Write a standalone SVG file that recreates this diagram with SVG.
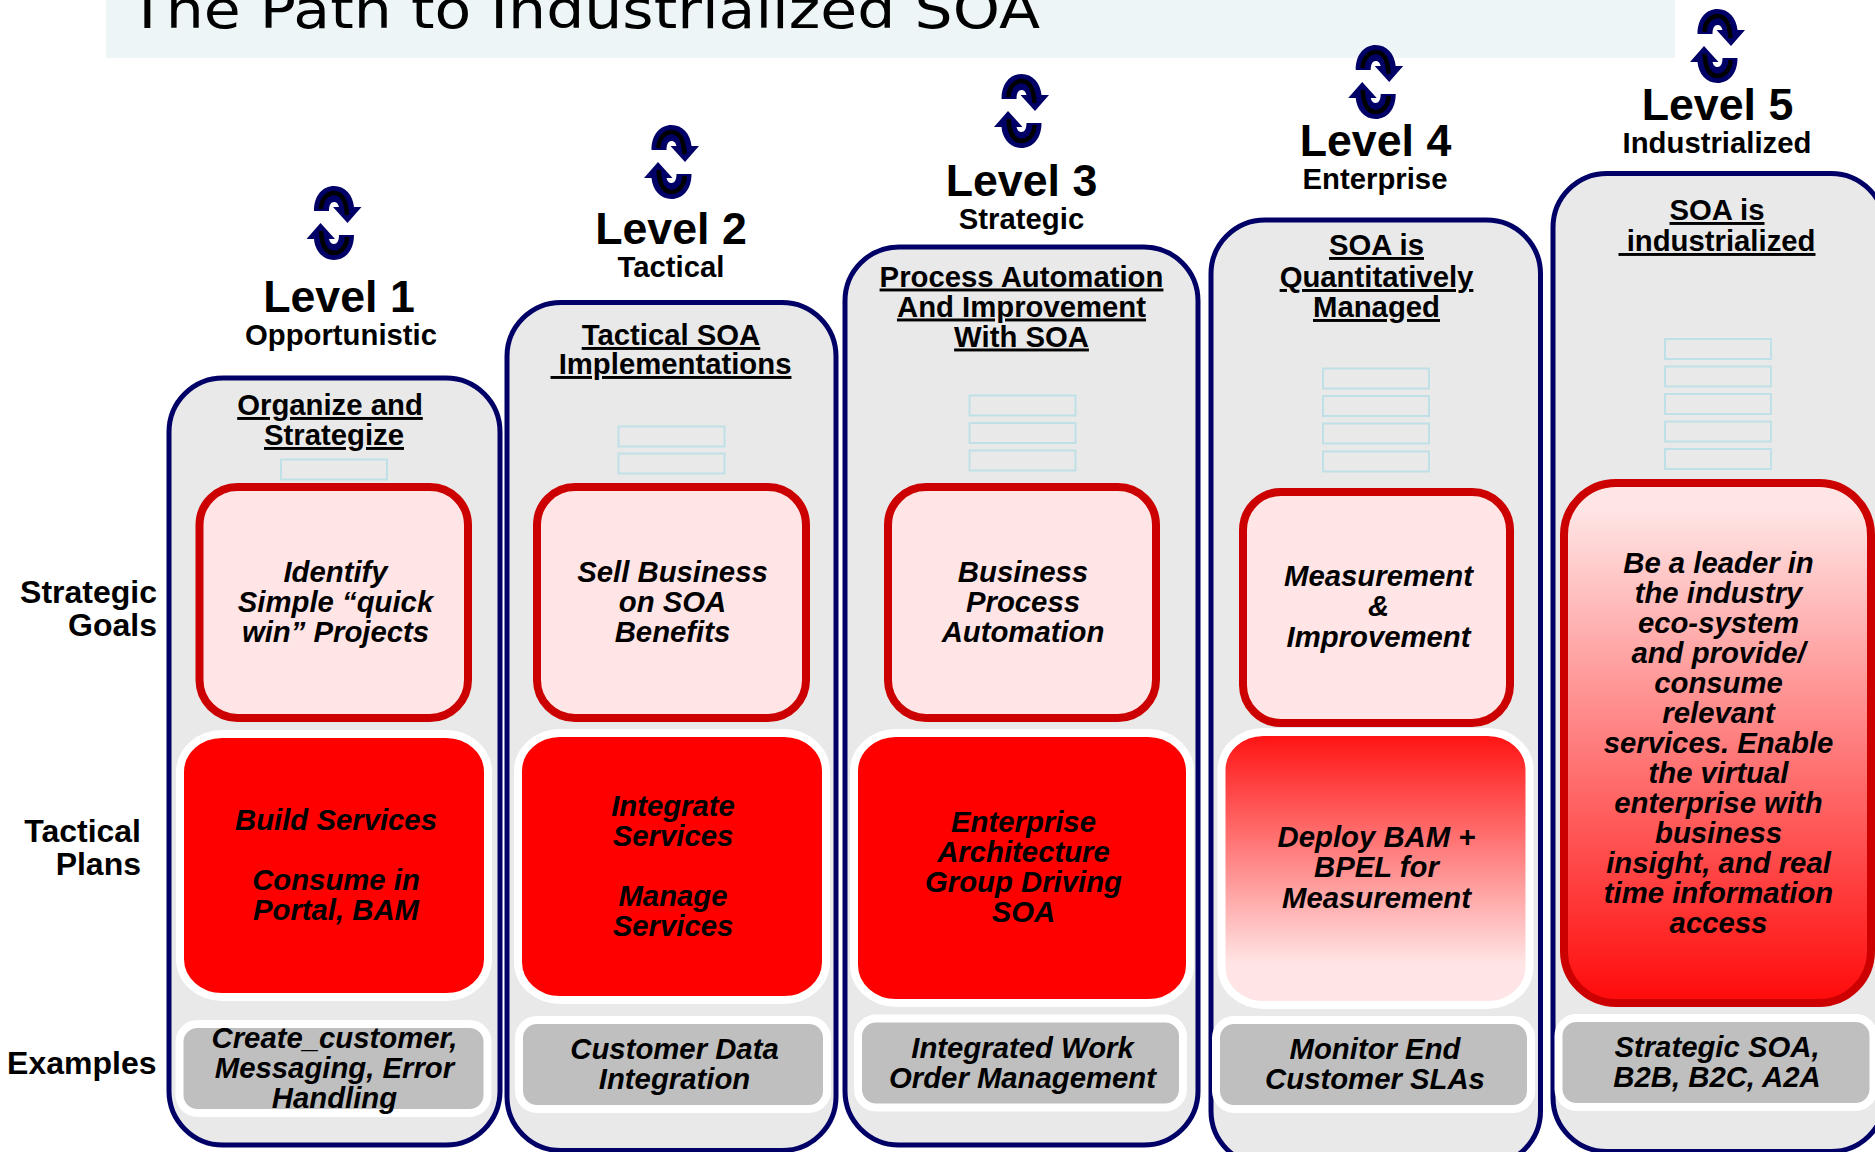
<svg xmlns="http://www.w3.org/2000/svg" width="1875" height="1152" viewBox="0 0 1875 1152">
<style>
text{font-family:"Liberation Sans",Arial,sans-serif;font-weight:700;fill:#000;text-anchor:middle}
.title{font-family:"DejaVu Sans",sans-serif;font-weight:400;font-size:54px;text-anchor:start}
.lv{font-size:44.700px}
.sub{font-size:29.300px}
.hd{font-size:29.300px;text-decoration:underline;white-space:pre}
.it{font-size:29.300px;font-style:italic}
.lab{font-size:32px;text-anchor:end}
.col{fill:#e9e9e9;stroke:#000066;stroke-width:5}
.sm{fill:none;stroke:#bfe0e6;stroke-width:2}
.goal{fill:#ffe5e5;stroke:#cc0000;stroke-width:8}
.plan{fill:#ff0000;stroke:#fff;stroke-width:8}
.ex{fill:#bfbfbf;stroke:#fff;stroke-width:8}
</style>
<defs>
<linearGradient id="g4" x1="0" y1="0" x2="0" y2="1"><stop offset="0" stop-color="#ff1010"/><stop offset="0.85" stop-color="#ffe5e5"/><stop offset="1" stop-color="#ffe5e5"/></linearGradient>
<linearGradient id="g5" x1="0" y1="0" x2="0" y2="1"><stop offset="0" stop-color="#ffe5e5"/><stop offset="0.05" stop-color="#ffe5e5"/><stop offset="1" stop-color="#ff0a0a"/></linearGradient>
<g id="arr"><path fill="#000066" d="M-20,-12C-20,-28-11,-37 0,-37C11,-37 19,-28 20,-16L27.5,-16L13.5,0L-1,-16L5,-16C4,-20 2,-21 0,-21C-3,-21-5,-18-5,-12Z"/><path fill="none" stroke="#000" stroke-width="4.5" d="M-13,-14C-13,-24-6,-30 0,-30C7,-30 12,-24 13,-8"/></g>
<g id="icon"><use href="#arr"/><use href="#arr" transform="rotate(180)"/></g>
</defs>
<g id="title"><rect x="106" y="0" width="1569" height="58" fill="#edf5f7"/><text class="title" x="129" y="27.500" textLength="911" lengthAdjust="spacingAndGlyphs">The Path to Industrialized SOA</text></g>
<g id="row-labels">
<text class="lab" x="157" y="603">Strategic</text><text class="lab" x="157" y="636">Goals</text>
<text class="lab" x="141" y="842">Tactical</text><text class="lab" x="141" y="875">Plans</text>
<text class="lab" x="156.500" y="1074">Examples</text>
</g>
<g id="level-1">
<rect class="col" x="169" y="378" width="331" height="767" rx="54"/>
<use href="#icon" x="334" y="223"/>
<text class="lv" x="339" y="312">Level 1</text><text class="sub" x="341" y="345">Opportunistic</text>
<text class="hd" x="330" y="415">Organize and</text><text class="hd" x="334" y="445">Strategize</text>
<rect class="sm" x="281" y="459.500" width="106" height="20"/>
<rect class="goal" x="199.500" y="487" width="268.500" height="231" rx="38"/>
<text class="it" x="335.500" y="582">Identify</text><text class="it" x="335.500" y="612">Simple “quick</text><text class="it" x="335.500" y="642">win” Projects</text>
<rect class="plan" x="180" y="734" width="308" height="263" rx="42" ry="38"/>
<text class="it" x="336" y="830">Build Services</text><text class="it" x="336" y="890">Consume in</text><text class="it" x="336" y="920">Portal, BAM</text>
<rect class="ex" x="179.500" y="1024" width="308" height="89" rx="18"/>
<text class="it" x="334.500" y="1048">Create_customer,</text><text class="it" x="334.500" y="1078">Messaging, Error</text><text class="it" x="334.500" y="1108">Handling</text>
</g>
<g id="level-2">
<rect class="col" x="507" y="302.500" width="329" height="848" rx="54"/>
<use href="#icon" x="671.500" y="162"/>
<text class="lv" x="671" y="244">Level 2</text><text class="sub" x="671" y="277">Tactical</text>
<text class="hd" x="671" y="345">Tactical SOA</text><text class="hd" x="671" y="374"> Implementations</text>
<rect class="sm" x="618.500" y="426.500" width="106" height="20"/><rect class="sm" x="618.500" y="453.500" width="106" height="20"/>
<rect class="goal" x="537" y="487" width="269" height="231" rx="38"/>
<text class="it" x="672.500" y="582">Sell Business</text><text class="it" x="672.500" y="612">on SOA</text><text class="it" x="672.500" y="642">Benefits</text>
<rect class="plan" x="518" y="733" width="308" height="267" rx="42" ry="38"/>
<text class="it" x="673" y="816">Integrate</text><text class="it" x="673" y="846">Services</text><text class="it" x="673" y="906">Manage</text><text class="it" x="673" y="936">Services</text>
<rect class="ex" x="519" y="1020" width="308" height="89" rx="18"/>
<text class="it" x="674.500" y="1059">Customer Data</text><text class="it" x="674.500" y="1089">Integration</text>
</g>
<g id="level-3">
<rect class="col" x="845" y="247" width="353" height="898" rx="54"/>
<use href="#icon" x="1021.500" y="111"/>
<text class="lv" x="1021.500" y="196">Level 3</text><text class="sub" x="1021.500" y="229">Strategic</text>
<text class="hd" x="1021.500" y="286.500">Process Automation</text><text class="hd" x="1021.500" y="316.500">And Improvement</text><text class="hd" x="1021.500" y="346.500">With SOA</text>
<rect class="sm" x="969.500" y="395.500" width="106" height="20"/><rect class="sm" x="969.500" y="423" width="106" height="20"/><rect class="sm" x="969.500" y="450.500" width="106" height="20"/>
<rect class="goal" x="888" y="487" width="268" height="231" rx="38"/>
<text class="it" x="1023" y="582">Business</text><text class="it" x="1023" y="612">Process</text><text class="it" x="1023" y="642">Automation</text>
<rect class="plan" x="854" y="733" width="336" height="270" rx="42" ry="38"/>
<text class="it" x="1023.500" y="832">Enterprise</text><text class="it" x="1023.500" y="862">Architecture</text><text class="it" x="1023.500" y="892">Group Driving</text><text class="it" x="1023.500" y="922">SOA</text>
<rect class="ex" x="858" y="1018.500" width="325" height="89" rx="18"/>
<text class="it" x="1022.500" y="1058">Integrated Work</text><text class="it" x="1022.500" y="1088">Order Management</text>
</g>
<g id="level-4">
<rect class="col" x="1211" y="220" width="329.500" height="945" rx="54"/>
<use href="#icon" x="1375.700" y="82"/>
<text class="lv" x="1375.500" y="156">Level 4</text><text class="sub" x="1375" y="189">Enterprise</text>
<text class="hd" x="1376.500" y="255">SOA is</text><text class="hd" x="1376.500" y="287">Quantitatively</text><text class="hd" x="1376.500" y="317">Managed</text>
<rect class="sm" x="1323" y="368.500" width="106" height="20"/><rect class="sm" x="1323" y="396" width="106" height="20"/><rect class="sm" x="1323" y="423.500" width="106" height="20"/><rect class="sm" x="1323" y="451.500" width="106" height="20"/>
<rect class="goal" x="1243" y="492" width="267" height="231" rx="38"/>
<text class="it" x="1378.500" y="586">Measurement</text><text class="it" x="1378.500" y="616">&amp;</text><text class="it" x="1378.500" y="647">Improvement</text>
<rect class="plan" x="1221.500" y="732" width="308" height="273" rx="42" ry="38" style="fill:url(#g4)"/>
<text class="it" x="1376.500" y="847">Deploy BAM +</text><text class="it" x="1376.500" y="877">BPEL for</text><text class="it" x="1376.500" y="907.500">Measurement</text>
<rect class="ex" x="1216" y="1020" width="315" height="89" rx="18"/>
<text class="it" x="1375" y="1059">Monitor End</text><text class="it" x="1375" y="1089">Customer SLAs</text>
</g>
<g id="level-5">
<rect class="col" x="1553" y="173.500" width="332" height="978" rx="54"/>
<use href="#icon" x="1717.500" y="46"/>
<text class="lv" x="1717.500" y="120">Level 5</text><text class="sub" x="1717" y="153">Industrialized</text>
<text class="hd" x="1717" y="220">SOA is</text><text class="hd" x="1717" y="251"> industrialized</text>
<rect class="sm" x="1665" y="339" width="106" height="20"/><rect class="sm" x="1665" y="366.500" width="106" height="20"/><rect class="sm" x="1665" y="394" width="106" height="20"/><rect class="sm" x="1665" y="421.500" width="106" height="20"/><rect class="sm" x="1665" y="449" width="106" height="20"/>
<rect class="goal" x="1564" y="483" width="307" height="520" rx="52" style="fill:url(#g5)"/>
<text class="it" x="1718.500" y="573">Be a leader in</text><text class="it" x="1718.500" y="603">the industry</text><text class="it" x="1718.500" y="633">eco-system</text><text class="it" x="1718.500" y="663">and provide/</text><text class="it" x="1718.500" y="693">consume</text><text class="it" x="1718.500" y="723">relevant</text><text class="it" x="1718.500" y="753">services. Enable</text><text class="it" x="1718.500" y="783">the virtual</text><text class="it" x="1718.500" y="813">enterprise with</text><text class="it" x="1718.500" y="843">business</text><text class="it" x="1718.500" y="873">insight, and real</text><text class="it" x="1718.500" y="903">time information</text><text class="it" x="1718.500" y="933">access</text>
<rect class="ex" x="1558.500" y="1018" width="315" height="89" rx="18"/>
<text class="it" x="1717" y="1057">Strategic SOA,</text><text class="it" x="1717" y="1087">B2B, B2C, A2A</text>
</g>
<g id="connectors"/>
</svg>
